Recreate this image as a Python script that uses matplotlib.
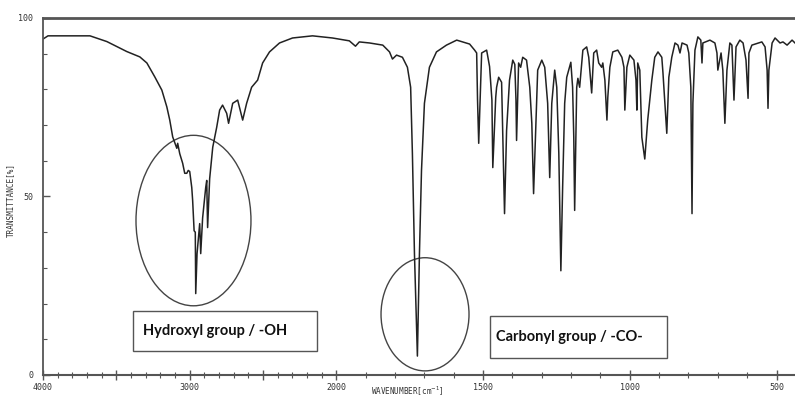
import numpy as np
import matplotlib
matplotlib.use('Agg')
import matplotlib.pyplot as plt
from matplotlib.patches import Ellipse, Rectangle
from matplotlib.ticker import FixedLocator, MultipleLocator

# IR spectrum (wavenumber in cm-1, transmittance in %)
wavenumber = [
    4000, 3966, 3680, 3565, 3429, 3340, 3292, 3238, 3190, 3156, 3136, 3116,
    3088, 3082, 3068, 3048, 3034, 3020, 3010, 3000, 2986, 2980, 2970, 2962,
    2959, 2950, 2932, 2925, 2912, 2891, 2884, 2878, 2864, 2843, 2816, 2796,
    2776, 2748, 2735, 2707, 2673, 2639, 2612, 2578, 2537, 2503, 2456, 2388,
    2299, 2163, 2027, 1956, 1935, 1922, 1887, 1842, 1819, 1809, 1795, 1775,
    1758, 1747, 1741, 1734, 1724, 1717, 1710, 1700, 1683, 1659, 1625, 1590,
    1570, 1546, 1529, 1522, 1519, 1515, 1505, 1488, 1478, 1470, 1467, 1457,
    1454, 1447, 1437, 1433, 1427, 1420, 1410, 1399, 1392, 1388, 1386, 1379,
    1372, 1365, 1352, 1341, 1334, 1328, 1321, 1314, 1300, 1290, 1280, 1273,
    1266, 1256, 1249, 1242, 1235, 1229, 1222, 1215, 1201, 1195, 1191, 1188,
    1181, 1177, 1171, 1160, 1147, 1140, 1130, 1123, 1113, 1106, 1096, 1092,
    1085, 1078, 1075, 1068, 1058, 1041, 1027, 1020, 1017, 1010, 1000, 986,
    979, 976, 973, 966, 959, 949, 939, 925, 915, 904, 891, 887,
    874, 867, 857, 846, 836, 829, 822, 805, 799, 792, 788, 785,
    778, 768, 758, 754, 751, 727, 710, 703, 700, 689, 683, 676,
    669, 659, 652, 645, 638, 625, 614, 604, 597, 594, 584, 550,
    539, 532, 529, 526, 515, 505, 488, 478, 464, 447, 437,
]
transmittance = [
    94.1, 95.0, 95.0, 93.4, 90.6, 89.1, 87.4, 83.5, 79.8, 75.1, 71.4, 66.7,
    63.5, 64.9, 62.0, 59.3, 56.5, 56.5, 57.3, 57.0, 52.5, 48.9, 40.4, 40.0,
    22.8, 34.0, 42.4, 34.0, 44.0, 52.5, 54.5, 41.3, 55.0, 63.8, 69.4, 74.2,
    75.6, 73.3, 70.5, 76.1, 77.0, 71.4, 76.1, 80.6, 82.6, 87.4, 90.5, 93.0,
    94.4, 95.0, 94.4, 93.6, 92.1, 93.3, 93.0, 92.4, 90.5, 88.5, 89.6, 89.0,
    86.2, 80.6, 62.0, 34.0, 5.3, 34.0, 57.3, 76.1, 86.2, 90.5, 92.4, 93.8,
    93.3, 92.7, 91.0, 90.2, 77.0, 64.9, 90.2, 91.0, 86.4, 77.0, 58.1, 77.8,
    80.6, 83.4, 82.0, 67.7, 45.2, 68.5, 82.6, 88.2, 87.0, 77.0, 65.7, 87.4,
    86.2, 89.0, 88.2, 80.6, 70.5, 50.8, 67.7, 85.4, 88.2, 86.2, 76.1, 55.3,
    76.1, 85.4, 80.6, 62.1, 29.2, 52.5, 76.1, 83.4, 87.6, 80.6, 66.6, 46.1,
    80.6, 83.1, 80.6, 91.0, 91.9, 89.0, 79.0, 90.2, 91.0, 87.4, 86.2, 87.4,
    82.6, 71.4, 77.8, 86.2, 90.5, 91.0, 89.0, 86.2, 74.2, 86.2, 89.6, 88.2,
    82.6, 74.2, 87.4, 85.4, 66.6, 60.5, 71.4, 82.6, 89.0, 90.5, 89.0, 84.6,
    67.7, 83.4, 89.0, 93.0, 92.4, 90.2, 93.0, 92.4, 90.2, 80.6, 45.2, 76.1,
    91.0, 94.7, 93.8, 87.4, 93.0, 93.8, 93.0, 90.2, 85.4, 90.2, 85.4, 70.5,
    85.4, 93.0, 92.4, 77.0, 91.9, 93.8, 93.0, 88.2, 77.5, 90.2, 92.4, 93.3,
    91.9, 85.4, 74.7, 85.4, 93.0, 94.4, 93.0, 93.3, 92.4, 93.8, 93.0,
]

x_major = [4000, 3500, 3000, 2500, 2000, 1500, 1000, 500]
x_labels = ['4000', '', '3000', '', '2000', '1500', '1000', '500']
y_major = [0, 50, 100]

callouts = ['Hydroxyl group / -OH', 'Carbonyl group / -CO-']


# below 2000 cm-1 the chart uses twice the scale
def fwd(w):
    w = np.asarray(w, dtype=float)
    return np.where(w >= 2000, w, 2 * w - 2000)


def inv(u):
    u = np.asarray(u, dtype=float)
    return np.where(u >= 2000, u, (u + 2000) / 2)


fig = plt.figure(figsize=(7.95, 3.98), dpi=100)
ax = fig.add_axes([0.0541, 0.0578, 0.9459, 0.897])

ax.plot(wavenumber, transmittance, color='#222222', lw=1.1)

ax.set_xscale('function', functions=(fwd, inv))
ax.set_xlim(4000, 437)
ax.set_ylim(0, 100)

ax.xaxis.set_major_locator(FixedLocator(x_major))
ax.set_xticklabels(x_labels)
ax.xaxis.set_minor_locator(FixedLocator(np.arange(500, 4000, 100)))
ax.yaxis.set_major_locator(FixedLocator(y_major))
ax.yaxis.set_minor_locator(MultipleLocator(10))

for s in ['top', 'left', 'bottom']:
    ax.spines[s].set_color('#555555')
ax.spines['top'].set_linewidth(2.0)
ax.spines['left'].set_linewidth(1.3)
ax.spines['bottom'].set_linewidth(1.5)
ax.spines['right'].set_visible(False)

ax.tick_params(axis='x', which='major', direction='inout', length=7, width=1,
               color='#555555', pad=2)
ax.tick_params(axis='x', which='minor', direction='inout', length=4, width=0.8,
               color='#555555')
ax.tick_params(axis='y', which='major', direction='in', length=5, width=1,
               color='#555555', pad=7)
ax.tick_params(axis='y', which='minor', direction='in', length=3, width=0.8,
               color='#555555')
for lab in ax.get_xticklabels() + ax.get_yticklabels():
    lab.set_fontfamily('DejaVu Sans Mono')
    lab.set_fontsize(6)
    lab.set_color('#333333')

ax.set_ylabel('TRANSMITTANCE[%]', fontfamily='DejaVu Sans Mono', fontsize=5.5,
              color='#333333')
ax.yaxis.set_label_coords(-0.037, 0.49)
ax.set_xlabel('WAVENUMBER[cm$^{-1}$]', fontfamily='DejaVu Sans Mono',
              fontsize=5.5, color='#333333')
ax.xaxis.set_label_coords(0.484, -0.027)

# circled regions
ax.add_patch(Ellipse((0.2001, 0.4326), 0.1529, 0.4775, transform=ax.transAxes,
                     fill=False, ec='#444444', lw=1.0, clip_on=False))
ax.add_patch(Ellipse((0.508, 0.170), 0.117, 0.317, transform=ax.transAxes,
                     fill=False, ec='#444444', lw=1.0, clip_on=False))

# labels in boxes
ax.add_patch(Rectangle((0.1197, 0.0674), 0.2447, 0.1124, transform=ax.transAxes,
                       fc='white', ec='#555555', lw=1.0, clip_on=False))
ax.text(0.133, 0.1236, callouts[0], transform=ax.transAxes, ha='left',
        va='center', fontfamily='Lato', fontweight='bold', fontsize=10.5,
        color='#111111')
ax.add_patch(Rectangle((0.5944, 0.0478), 0.2354, 0.1179, transform=ax.transAxes,
                       fc='white', ec='#555555', lw=1.0, clip_on=False))
ax.text(0.602, 0.1067, callouts[1], transform=ax.transAxes, ha='left',
        va='center', fontfamily='Lato', fontweight='bold', fontsize=10.5,
        color='#111111')

fig.savefig('out.png', dpi=100)
